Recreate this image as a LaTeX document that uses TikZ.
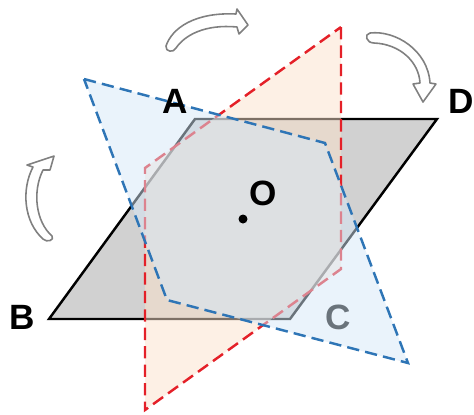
\documentclass[tikz,border=0pt]{standalone}
\usepackage{fontspec}
\setmainfont{Liberation Sans}
\definecolor{pargray}{RGB}{209,209,209}
\definecolor{redfill}{RGB}{251,225,203}
\definecolor{bluefill}{RGB}{213,231,247}
\definecolor{redline}{RGB}{228,32,40}
\definecolor{blueline}{RGB}{46,117,182}
\definecolor{arrowgray}{RGB}{128,128,128}
\begin{document}
\begin{tikzpicture}[
  x=0.02cm, y=-0.02cm,
  label/.style={font=\fontsize{20}{24}\selectfont\bfseries, inner sep=0pt},
  para/.style={draw=black, line width=1.4pt, fill=pargray, line join=miter},
  redshape/.style={draw=redline, line width=1.4pt, dash pattern=on 7pt off 3.5pt, fill=redfill, fill opacity=0.5},
  blueshape/.style={draw=blueline, line width=1.4pt, dash pattern=on 7pt off 3.5pt, fill=bluefill, fill opacity=0.5},
  turn/.style={draw=arrowgray, line width=0.9pt, fill=white, line join=round}
]
\useasboundingbox (0,0) rectangle (474,414);

\coordinate (A) at (195,119);
\coordinate (B) at (49,319);
\coordinate (C) at (290,319);
\coordinate (D) at (437,119);
\coordinate (O) at (243,219);

\coordinate (r1) at (341,27);
\coordinate (r2) at (341,269);
\coordinate (r3) at (145,410);
\coordinate (r4) at (145,168);

\coordinate (b1) at (84,79);
\coordinate (b2) at (325,143);
\coordinate (b3) at (408,363);
\coordinate (b4) at (167,300);

\draw[para] (A) -- (B) -- (C) -- (D) -- cycle;
\draw[redshape] (r1) -- (r2) -- (r3) -- (r4) -- cycle;
\node[label] (labC) at (338,317) {C};
\draw[blueshape] (b1) -- (b2) -- (b3) -- (b4) -- cycle;

\node[label] (labA) at (175,101) {A};
\node[label] (labB) at (22,317) {B};
\node[label] (labD) at (461,101) {D};
\node[label] (labO) at (263,193) {O};
\fill (O) circle (4.5);

% rotation arrows
\draw[turn] (166,46) .. controls (172,28) and (195,12) .. (236,14) -- (237,9) -- (248,25) -- (239,34) -- (237,27)
  .. controls (205,24) and (185,35) .. (176,48) .. controls (174,53) and (165,52) .. (166,46) -- cycle;
\draw[turn] (370,33) .. controls (395,30) and (428,50) .. (430,83) -- (436,84) -- (423,102) -- (413,84) -- (420,83)
  .. controls (419,62) and (400,44) .. (374,43) .. controls (366,43) and (364,34) .. (370,33) -- cycle;
\draw[turn] (52,236) .. controls (36,222) and (32,192) .. (43,170) -- (50,170) -- (54,156) -- (27,165) -- (33,167)
  .. controls (21,190) and (24,222) .. (43,239) .. controls (47,243) and (55,240) .. (52,236) -- cycle;
\end{tikzpicture}
\end{document}
